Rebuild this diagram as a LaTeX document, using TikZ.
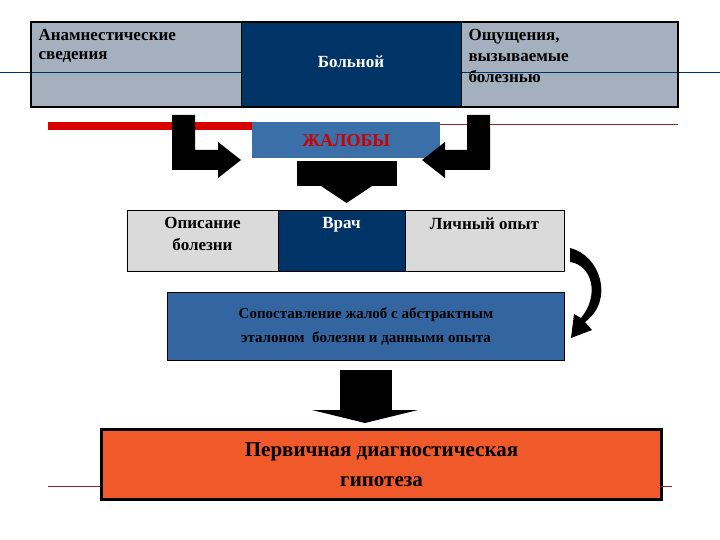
\documentclass[tikz,border=0pt]{standalone}
\usepackage{fontspec}
\setmainfont{Liberation Serif}
\definecolor{gr}{HTML}{A5B0BE}
\definecolor{lg}{HTML}{DADADA}
\definecolor{nv}{HTML}{003366}
\definecolor{bl}{HTML}{3366A0}
\definecolor{jb}{HTML}{3A6FA8}
\definecolor{og}{HTML}{F05A2A}
\definecolor{dr}{HTML}{A0202A}
\begin{document}
\begin{tikzpicture}[x=1pt,y=-1pt,
  cell/.style={draw=black,line width=1pt,inner sep=0pt},
  tx/.style={font=\bfseries\fontsize{17}{19}\selectfont,align=left,anchor=north west},
  tc/.style={font=\bfseries\fontsize{17}{22}\selectfont,align=center,anchor=north},
  blk/.style={fill=black,draw=none}]
\useasboundingbox (0,0) rectangle (720,540);
\fill[white] (0,0) rectangle (720,540);
% decorative lines
\draw[nv,line width=0.6pt] (0,72) -- (720,72);
\draw[dr,line width=0.8pt] (250,124) -- (678,124);
\draw[dr,line width=0.8pt] (48,486) -- (672,486);
% top row
\filldraw[fill=gr,draw=black,line width=1pt] (31,22) rectangle (241,107);
\filldraw[fill=gr,draw=black,line width=1pt] (461,22) rectangle (678,107);
\draw[nv,line width=0.6pt] (31,72) -- (678,72);
\filldraw[fill=nv,draw=black,line width=1pt] (241,22) rectangle (461,107);
\draw[line width=2pt] (31,22) rectangle (678,107);
\node[tx] (a1) at (35,26) {Анамнестические\\сведения};
\node[tc,text=white] (a2) at (351,52) {Больной};
\node[tx,font=\bfseries\fontsize{17}{21}\selectfont] (a3) at (465,26) {Ощущения,\\вызываемые\\болезнью};
% red thick line
\fill[red!85!black] (48,122) rectangle (252,130);
% zhaloby
\node[fill=jb,minimum width=188pt,minimum height=36pt,inner sep=0pt,anchor=north west,text=red!80!black,font=\bfseries\fontsize{18}{20}\selectfont] (zh) at (252,122) {ЖАЛОБЫ};
% L arrows
\fill[blk] (172,115) -- (195,115) -- (195,150) -- (218,150) -- (218,142) -- (241,160) -- (218,178) -- (218,170) -- (172,170) -- cycle;
\fill[blk] (490,115) -- (467,115) -- (467,150) -- (445,150) -- (445,142) -- (422,160) -- (445,178) -- (445,170) -- (490,170) -- cycle;
% down arrow 1
\fill[blk] (297,161) rectangle (397,186);
\fill[blk] (321,186) -- (372,186) -- (346.5,203) -- cycle;
% middle row
\filldraw[fill=lg,draw=black,line width=1pt] (127,211) rectangle (564,271);
\filldraw[fill=nv,draw=black,line width=1pt] (278,211) rectangle (405,271);
\node[tc] (b1) at (202.5,214) {Описание\\болезни};
\node[tc,text=white] (b2) at (341.5,214) {Врач};
\node[tc] (b3) at (484.5,214) {Личный опыт};
% comparison box
\node[draw=black,line width=1pt,fill=bl,minimum width=397pt,minimum height=68pt,inner sep=0pt,anchor=north west,align=center,font=\bfseries\fontsize{15}{24}\selectfont] (c) at (167,292) {Сопоставление жалоб с абстрактным\\эталоном~ болезни и данными опыта};
% curved arrow
\fill[blk] (570,248) .. controls (600,255) and (615,300) .. (585,322) -- (592,330) -- (571,338) -- (574,314) -- (581,318) .. controls (600,295) and (592,265) .. (570,262) -- cycle;
% down arrow 2
\fill[blk] (340,370) rectangle (392,410);
\fill[blk] (312,410) -- (418,410) -- (365,423) -- cycle;
% final box
\node[draw=black,line width=3pt,fill=og,minimum width=560pt,minimum height=70pt,inner sep=0pt,anchor=north west,align=center,font=\bfseries\fontsize{21}{30}\selectfont] (d) at (100,428) {Первичная диагностическая\\гипотеза};
\draw[dr,line width=0.8pt] (48,486) -- (99,486) (661,486) -- (672,486);
\end{tikzpicture}
\end{document}
